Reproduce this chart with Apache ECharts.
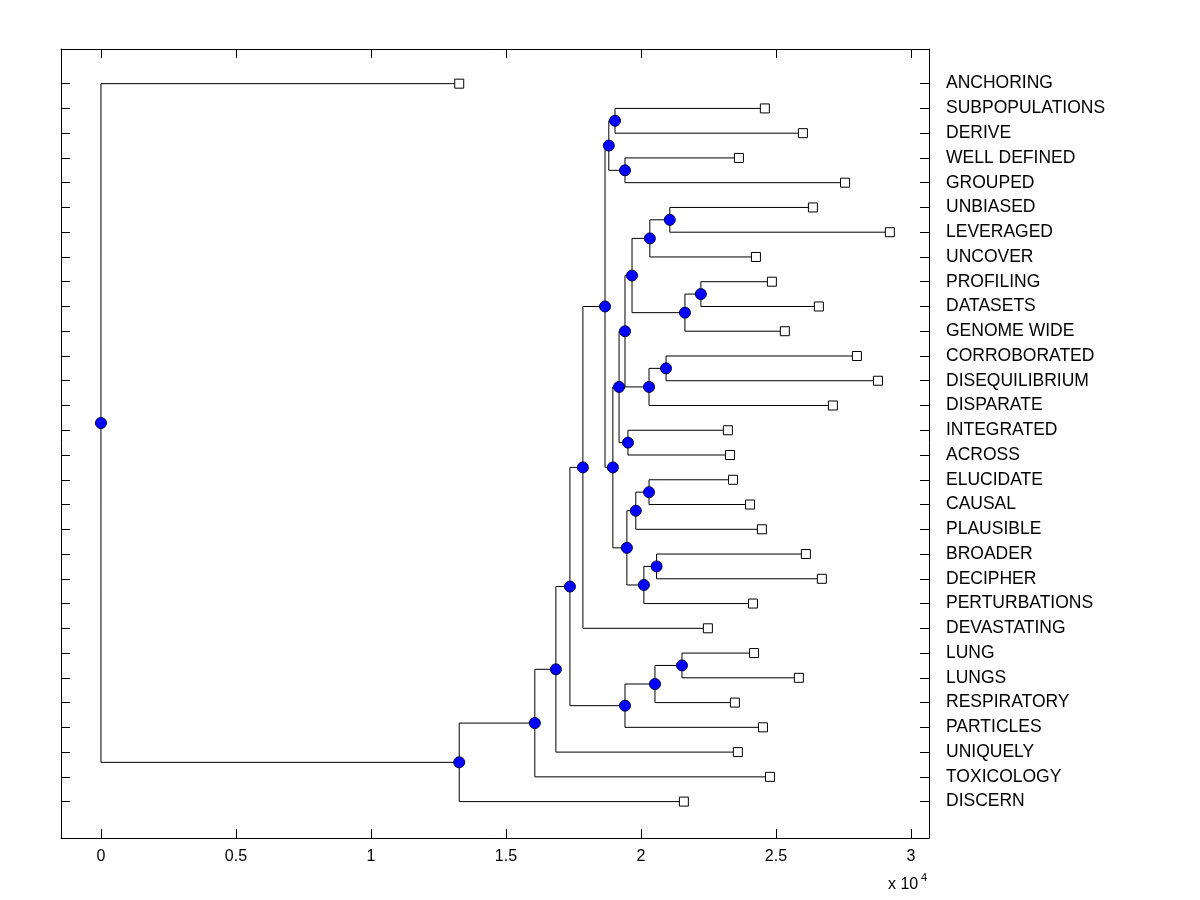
<!DOCTYPE html>
<html><head><meta charset="utf-8">
<script src="https://cdn.jsdelivr.net/npm/echarts@6/dist/echarts.min.js"></script>
<style>html,body{margin:0;padding:0;background:#fff}#c{width:1200px;height:900px}</style>
</head><body><div id="c"></div>
<script>
// Leaf labels, top to bottom
const labels = ['ANCHORING','SUBPOPULATIONS','DERIVE','WELL DEFINED','GROUPED','UNBIASED','LEVERAGED','UNCOVER','PROFILING','DATASETS','GENOME WIDE','CORROBORATED','DISEQUILIBRIUM','DISPARATE','INTEGRATED','ACROSS','ELUCIDATE','CAUSAL','PLAUSIBLE','BROADER','DECIPHER','PERTURBATIONS','DEVASTATING','LUNG','LUNGS','RESPIRATORY','PARTICLES','UNIQUELY','TOXICOLOGY','DISCERN'];
// Leaf values (x position of each leaf marker)
const leafValues = [13270,24590,26000,23630,27560,26370,29220,24260,24850,26590,25330,28000,28780,27110,23220,23300,23410,24040,24480,26110,26700,24150,22480,24190,25850,23480,24520,23590,24780,21590];
// Merges: left child, right child (leaf label or merge index), merge height
const mergeLeft  = ['SUBPOPULATIONS','WELL DEFINED',0,'UNBIASED',3,'PROFILING',5,4,'CORROBORATED',8,7,'INTEGRATED',10,'ELUCIDATE',13,'BROADER',15,14,12,2,19,'LUNG',21,22,20,24,25,26,'ANCHORING'];
const mergeRight = ['DERIVE','GROUPED',1,'LEVERAGED','UNCOVER','DATASETS','GENOME WIDE',6,'DISEQUILIBRIUM','DISPARATE',9,'ACROSS',11,'CAUSAL','PLAUSIBLE','DECIPHER','PERTURBATIONS',16,17,18,'DEVASTATING','LUNGS','RESPIRATORY','PARTICLES',23,'UNIQUELY','TOXICOLOGY','DISCERN',27];
const mergeHeight = [19040,19410,18810,21070,20330,22220,21630,19670,20930,20300,19410,19520,19190,20300,19810,20580,20110,19480,18960,18670,17850,21520,20520,19410,17370,16850,16070,13270,0];
// Tick values
const xTickValues = [0,5000,10000,15000,20000,25000,30000];
const rowTicks = labels.map((l,i)=>i);

const leafRow = {}; labels.forEach((l,i)=>{leafRow[l]=i;});
const nodeY = [];
function childPos(c){
  if (typeof c === 'number') return [mergeHeight[c], nodeY[c]];
  const i = leafRow[c]; return [leafValues[i], i];
}
const segs = [], nodePts = [];
for (let k=0;k<mergeHeight.length;k++){
  const a = childPos(mergeLeft[k]), b = childPos(mergeRight[k]);
  const h = mergeHeight[k];
  nodeY[k] = (a[1]+b[1])/2;
  segs.push({coords:[[a[0],a[1]],[h,a[1]],[h,b[1]],[b[0],b[1]]]});
  nodePts.push([h,nodeY[k]]);
}
const leafPts = labels.map((l,i)=>[leafValues[i], i]);

const FONT = '"Liberation Sans", Arial, Helvetica, sans-serif';
const chart = echarts.init(document.getElementById('c'), null, {renderer:'canvas'});
const xRange = {min:-1480, max:30670};
const yRange = {min:-1.40, max:30.47};
const axLine = {show:true, onZero:false, lineStyle:{color:'#000', width:1}};
chart.setOption({
  animation:false,
  backgroundColor:'#fff',
  grid:{left:61, top:49, width:868, height:789, containLabel:false},
  xAxis:[
    {type:'value', position:'bottom', ...xRange, axisLine:axLine,
     axisTick:{show:true, inside:true, length:9, customValues:xTickValues, lineStyle:{color:'#000'}},
     axisLabel:{show:true, customValues:xTickValues, formatter:v=>String(v/10000), color:'#000', fontSize:16, fontFamily:FONT, margin:11},
     splitLine:{show:false}},
    {type:'value', position:'top', ...xRange, axisLine:axLine,
     axisTick:{show:true, inside:true, length:9, customValues:xTickValues, lineStyle:{color:'#000'}},
     axisLabel:{show:false}, splitLine:{show:false}}
  ],
  yAxis:[
    {type:'value', position:'left', inverse:true, ...yRange, axisLine:axLine,
     axisTick:{show:true, inside:true, length:9, customValues:rowTicks, lineStyle:{color:'#000'}},
     axisLabel:{show:false}, splitLine:{show:false}},
    {type:'value', position:'right', inverse:true, ...yRange, axisLine:axLine,
     axisTick:{show:true, inside:true, length:9, customValues:rowTicks, lineStyle:{color:'#000'}},
     axisLabel:{show:true, customValues:rowTicks, formatter:v=>labels[v], color:'#000', fontSize:17.5, fontFamily:FONT, margin:17, align:'left', padding:[3,0,0,0]},
     splitLine:{show:false}}
  ],
  series:[
    {type:'lines', coordinateSystem:'cartesian2d', xAxisIndex:0, yAxisIndex:0, polyline:true, silent:true, z:2,
     lineStyle:{color:'#000', width:1, opacity:1}, data:segs},
    {type:'scatter', xAxisIndex:0, yAxisIndex:0, symbol:'rect', symbolSize:9, z:3, silent:true,
     itemStyle:{color:'#fff', borderColor:'#000', borderWidth:1, opacity:1}, data:leafPts},
    {type:'scatter', xAxisIndex:0, yAxisIndex:0, symbol:'circle', symbolSize:11, z:4, silent:true,
     itemStyle:{color:'#0000ff', borderColor:'#00004d', borderWidth:1, opacity:1}, data:nodePts}
  ],
  graphic:[
    {type:'text', x:888, y:885, style:{text:'x 10', font:'16px '+FONT, fill:'#000', align:'left', verticalAlign:'middle'}},
    {type:'text', x:921, y:878, style:{text:'4', font:'11px '+FONT, fill:'#000', align:'left', verticalAlign:'middle'}}
  ]
});
</script></body></html>
